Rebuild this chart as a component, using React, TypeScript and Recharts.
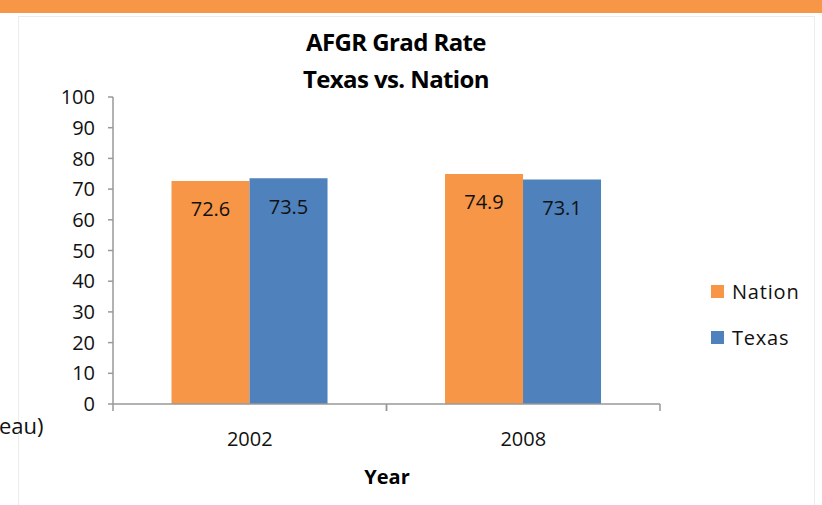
import { BarChart, Bar, XAxis, YAxis, LabelList, Legend } from "recharts";

const years = ["2002", "2008"];
const nation = [72.6, 74.9];
const texas = [73.5, 73.1];
const yTicks = [0, 10, 20, 30, 40, 50, 60, 70, 80, 90, 100];

const data = years.map((year, i) => ({ year, Nation: nation[i], Texas: texas[i] }));

const FONT = "'Open Sans', sans-serif";

function YearTick(props: any) {
  const { x, y, payload } = props;
  const half = payload && payload.offset ? payload.offset : 136.75;
  return (
    <g>
      <line x1={x - half} y1={y} x2={x - half} y2={y + 7} stroke="#999" strokeWidth={1.5} />
      <line x1={x + half} y1={y} x2={x + half} y2={y + 7} stroke="#999" strokeWidth={1.5} />
      <text x={x} y={y} dy={42} textAnchor="middle" fontSize={20} fill="#111" fontFamily={FONT}>
        {payload.value}
      </text>
    </g>
  );
}

function LegendBox(props: any) {
  const items = props.payload || [];
  return (
    <div style={{ fontFamily: FONT }}>
      {items.map((item: any) => (
        <div key={item.value} style={{ display: "flex", alignItems: "center", height: 46 }}>
          <span style={{ width: 13, height: 13, background: item.color, display: "inline-block", marginRight: 8 }} />
          <span style={{ fontSize: 20, color: "#111", letterSpacing: 0.8 }}>{item.value}</span>
        </div>
      ))}
    </div>
  );
}

export default function App() {
  return (
    <div style={{ position: "absolute", left: 0, top: 0, width: 822, height: 505, background: "#fff", overflow: "hidden" }}>
      <div style={{ position: "absolute", left: 0, top: 0, width: 822, height: 13, background: "#F79646" }} />
      <div style={{ position: "absolute", left: 18, top: 16, width: 795, height: 520, border: "1px solid #ececec" }} />
      <div
        style={{
          position: "absolute",
          left: 196,
          top: 23,
          width: 400,
          textAlign: "center",
          fontFamily: FONT,
          fontWeight: 700,
          fontSize: 24,
          letterSpacing: -0.6,
          lineHeight: "37px",
          color: "#000",
        }}
      >
        <div>AFGR Grad Rate</div>
        <div>Texas vs. Nation</div>
      </div>
      <div style={{ position: "absolute", left: -1, top: 410, fontFamily: FONT, fontSize: 22, lineHeight: "30px", color: "#111" }}>
        eau)
      </div>
      <div
        style={{
          position: "absolute",
          left: 287,
          top: 462,
          width: 200,
          textAlign: "center",
          fontFamily: FONT,
          fontWeight: 700,
          fontSize: 20,
          lineHeight: "30px",
          color: "#000",
        }}
      >
        Year
      </div>
      <div style={{ position: "absolute", left: 0, top: 0 }}>
        <BarChart
          width={822}
          height={505}
          data={data}
          margin={{ top: 97, right: 52, left: 0, bottom: 41 }}
          barCategoryGap="21.4%"
          barGap={0}
        >
          <XAxis
            dataKey="year"
            height={60}
            axisLine={{ stroke: "#999", strokeWidth: 1.5 }}
            tickLine={false}
            tickSize={0}
            tickMargin={0}
            tick={<YearTick />}
          />
          <YAxis
            width={113}
            domain={[0, 100]}
            ticks={yTicks}
            interval={0}
            axisLine={{ stroke: "#999", strokeWidth: 1.5 }}
            tickLine={{ stroke: "#999", strokeWidth: 1.5 }}
            tickSize={5}
            tickMargin={13}
            tick={{ fontSize: 20, fill: "#111", fontFamily: FONT }}
          />
          <Legend
            layout="vertical"
            align="right"
            verticalAlign="middle"
            content={<LegendBox />}
            wrapperStyle={{ position: "absolute", left: 711, top: 268, width: 110 }}
          />
          <Bar dataKey="Nation" fill="#F79646" isAnimationActive={false}>
            <LabelList dataKey="Nation" position="insideTop" offset={21} fontSize={20} fill="#111" fontFamily={FONT} />
          </Bar>
          <Bar dataKey="Texas" fill="#4F81BD" isAnimationActive={false}>
            <LabelList dataKey="Texas" position="insideTop" offset={21} fontSize={20} fill="#111" fontFamily={FONT} />
          </Bar>
        </BarChart>
      </div>
    </div>
  );
}
